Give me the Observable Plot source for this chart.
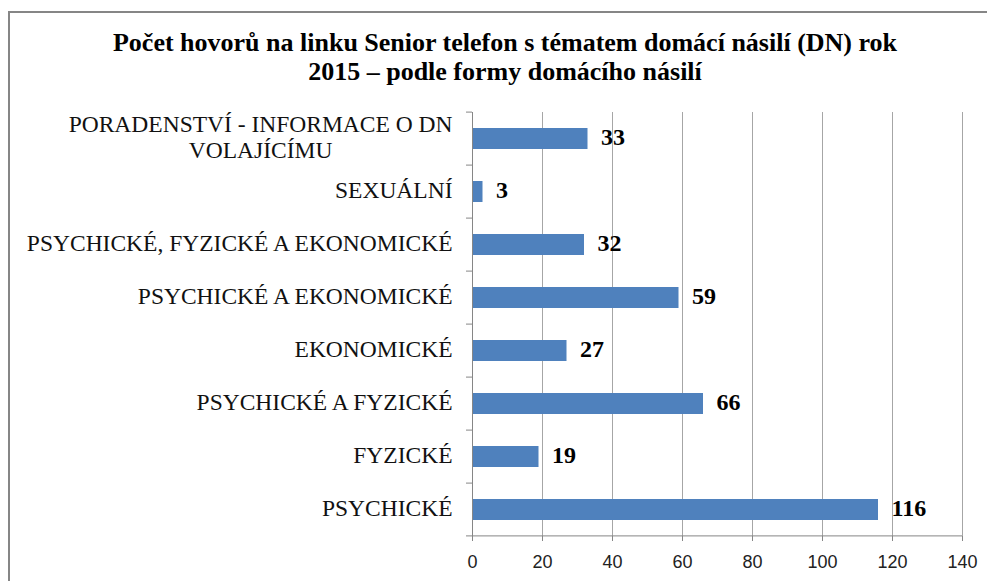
<!DOCTYPE html>
<html>
<head>
<meta charset="utf-8">
<script src="https://cdn.jsdelivr.net/npm/d3@7"></script>
<script src="https://cdn.jsdelivr.net/npm/@observablehq/plot@0.6"></script>
<style>
  html, body { margin: 0; padding: 0; background: #fff; overflow: hidden; }
  #wrap { position: relative; width: 987px; height: 581px; overflow: hidden; }
  #frame { position: absolute; left: 8px; top: 11px; width: 2000px; height: 2000px;
           border-left: 2px solid #868686; border-top: 2px solid #868686; box-sizing: border-box; }
  #title { position: absolute; left: 0; top: 28px; width: 1010px; text-align: center;
           font-family: "Liberation Serif", "Times New Roman", serif; font-weight: bold;
           font-size: 26px; line-height: 29px; color: #000; }
  #chart { position: absolute; left: 0; top: 0; }
</style>
</head>
<body>
<div id="wrap">
  <div id="frame"></div>
  <div id="chart"></div>
  <div id="title">Počet hovorů na linku Senior telefon s tématem domácí násilí (DN) rok<br>2015 – podle formy domácího násilí</div>
</div>
<script>
const categories = [
  "PORADENSTVÍ - INFORMACE O DN\nVOLAJÍCÍMU",
  "SEXUÁLNÍ",
  "PSYCHICKÉ, FYZICKÉ A EKONOMICKÉ",
  "PSYCHICKÉ A EKONOMICKÉ",
  "EKONOMICKÉ",
  "PSYCHICKÉ A FYZICKÉ",
  "FYZICKÉ",
  "PSYCHICKÉ"
];
const values = [33, 3, 32, 59, 27, 66, 19, 116];
const xTicks = [0, 20, 40, 60, 80, 100, 120, 140];

const data = categories.map((c, i) => ({category: c, value: values[i]}));

const serif = "'Liberation Serif', 'Times New Roman', serif";
const sans = "'Liberation Sans', Arial, sans-serif";

const plot = Plot.plot({
  width: 987,
  height: 581,
  marginLeft: 472,
  marginRight: 25,
  marginTop: 112,
  marginBottom: 45,
  style: {background: "transparent", overflow: "visible"},
  x: {domain: [0, 140], axis: null},
  y: {domain: categories, paddingInner: 0.6, paddingOuter: 0.3, axis: null},
  marks: [
    Plot.ruleX(xTicks.slice(1), {stroke: "#a6a6a6", strokeWidth: 1}),
    Plot.barX(data, {x: "value", y: "category", fill: "#4F81BD"}),
    Plot.ruleX([0], {stroke: "#868686", strokeWidth: 1}),
    Plot.axisX({ticks: xTicks, tickSize: 5, tickPadding: 14, stroke: "#868686", fill: "#222",
                fontSize: 18, fontFamily: sans, label: null}),
    Plot.text(categories, {y: d => d, frameAnchor: "left", dx: -20, dy: -2, textAnchor: "end",
                lineAnchor: "middle", fontSize: 23.5, fontFamily: serif, lineHeight: 1.08,
                fill: "#111", className: "catlabels"}),
    Plot.text(data, {x: "value", y: "category", text: d => String(d.value), dx: 13, dy: -1.5,
                textAnchor: "start", lineAnchor: "middle", fontWeight: "bold", fontSize: 24,
                fontFamily: serif, fill: "#000"})
  ]
});

document.getElementById("chart").appendChild(plot);

// Axis lines and category tick marks using the plot's scales
const xs = plot.scale("x");
const ys = plot.scale("y");
const svg = d3.select(plot);
const x0 = xs.apply(0), x1 = xs.apply(140);
const step = ys.step;
const bottom = ys.apply(categories[categories.length - 1]) + ys.bandwidth + step * 0.3;
const g = svg.append("g").attr("stroke", "#868686").attr("stroke-width", 1);
g.append("line").attr("x1", x0 - 6).attr("x2", x1).attr("y1", bottom).attr("y2", bottom);
categories.forEach(c => {
  const yTop = ys.apply(c) - step * 0.3;
  g.append("line").attr("x1", x0 - 6).attr("x2", x0).attr("y1", yTop).attr("y2", yTop);
});

// Center-align the lines of multi-line category labels
svg.selectAll("g.catlabels text").each(function() {
  const tspans = this.querySelectorAll("tspan");
  if (tspans.length > 1) {
    let w = 0;
    tspans.forEach(t => { w = Math.max(w, t.getComputedTextLength()); });
    this.setAttribute("text-anchor", "middle");
    const tr = this.getAttribute("transform");
    if (tr) this.setAttribute("transform", tr + ` translate(${-w / 2},0)`);
    else this.setAttribute("x", (+this.getAttribute("x") || 0) - w / 2);
  }
});
</script>
</body>
</html>
